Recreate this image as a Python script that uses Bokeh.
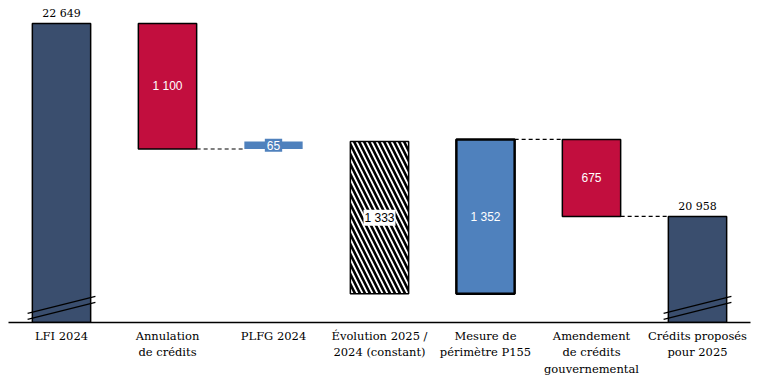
from bokeh.plotting import figure
from bokeh.models import Range1d, FixedTicker, Label
from bokeh.embed import file_html
from bokeh.resources import INLINE

categories = ["LFI 2024", "Annulation\nde crédits", "PLFG 2024",
              "Évolution 2025 /\n2024 (constant)", "Mesure de\npérimètre P155",
              "Amendement\nde crédits\ngouvernemental", "Crédits proposés\npour 2025"]
changes = [22649, -1100, 65, -1333, 1352, -675, None]
kinds = ["total", "decrease", "increase", "evolution", "increase", "decrease", "total"]
value_labels = ["22 649", "1 100", "65", "1 333", "1 352", "675", "20 958"]

Y_START = 20029
Y_END = 22780

NAVY = "#3A4E6E"
RED = "#C20E3E"
BLUE = "#4F81BD"
SERIF = "DejaVu Serif"
SANS = "Liberation Sans"

# compute bars
bottoms, tops = [], []
level = 0
for i, c in enumerate(changes):
    if kinds[i] == "total":
        if c is not None:
            level = c
        bottoms.append(Y_START - 100)
        tops.append(level)
    else:
        new = level + c
        bottoms.append(min(level, new))
        tops.append(max(level, new))
        level = new

xs = [i + 0.5 for i in range(len(categories))]
W = 0.55

p = figure(width=759, height=384, output_backend="svg", toolbar_location=None,
           x_range=Range1d(0, len(categories)), y_range=Range1d(Y_START, Y_END),
           min_border_left=8, min_border_right=9, min_border_top=8, min_border_bottom=62)
p.outline_line_color = None
p.grid.visible = False
p.yaxis.visible = False
p.background_fill_color = "white"

fill = {"total": NAVY, "decrease": RED, "increase": BLUE, "evolution": "white"}
for i in range(len(categories)):
    k = kinds[i]
    kw = dict(x=[xs[i]], top=[tops[i]], bottom=[bottoms[i]], width=W,
              fill_color=fill[k], line_color="black", line_width=1.5)
    if k == "evolution":
        kw.update(hatch_pattern="\\", hatch_color="black", hatch_weight=2.6, hatch_scale=10)
    if i == 2:
        kw.update(line_color=None)
    if i == 4:
        kw.update(line_width=2.5)
    p.vbar(**kw)

# connectors
levels_after = []
lv = 0
for i, c in enumerate(changes):
    if kinds[i] == "total" and c is not None:
        lv = c
    elif c is not None:
        lv = lv + c
    levels_after.append(lv)
for i in [1, 4, 5]:
    p.segment(x0=[xs[i] + W / 2], x1=[xs[i + 1] - W / 2],
              y0=[levels_after[i]], y1=[levels_after[i]],
              line_color="black", line_width=1.2, line_dash="4 3")

# axis break marks on total bars
for i in [0, 6]:
    for d in [0, 52]:
        p.segment(x0=[xs[i] - 0.32], x1=[xs[i] + 0.32],
                  y0=[Y_START + 79 - d], y1=[Y_START + 228 - d],
                  line_color="black", line_width=1.3)

# labels
for i in range(len(categories)):
    k = kinds[i]
    if k == "total":
        p.add_layout(Label(x=xs[i], y=tops[i], text=value_labels[i], y_offset=3,
                           text_align="center", text_baseline="bottom",
                           text_font=SERIF, text_font_size="11px", text_color="black"))
    else:
        mid = (tops[i] + bottoms[i]) / 2
        if k == "evolution":
            p.add_layout(Label(x=xs[i], y=mid, text=value_labels[i], text_align="center",
                               text_baseline="middle", text_font=SANS, text_font_size="12px",
                               text_color="black", background_fill_color="white", padding=1))
        elif i == 2:
            p.add_layout(Label(x=xs[i], y=mid, text=value_labels[i], text_align="center",
                               text_baseline="middle", text_font=SANS, text_font_size="12px",
                               text_color="white", background_fill_color=BLUE, padding=2))
        else:
            p.add_layout(Label(x=xs[i], y=mid, text=value_labels[i], text_align="center",
                               text_baseline="middle", text_font=SANS, text_font_size="12px",
                               text_color="white"))

ax = p.xaxis[0]
ax.ticker = FixedTicker(ticks=xs)
ax.major_label_overrides = {x: c for x, c in zip(xs, categories)}
ax.major_tick_line_color = None
ax.minor_tick_line_color = None
ax.major_tick_out = 0
ax.major_tick_in = 0
ax.axis_line_color = "black"
ax.axis_line_width = 1.5
ax.major_label_standoff = 6
ax.major_label_text_font = SERIF
ax.major_label_text_font_size = "11.5px"
ax.major_label_text_color = "black"

open("out.html", "w").write(file_html(p, INLINE))
